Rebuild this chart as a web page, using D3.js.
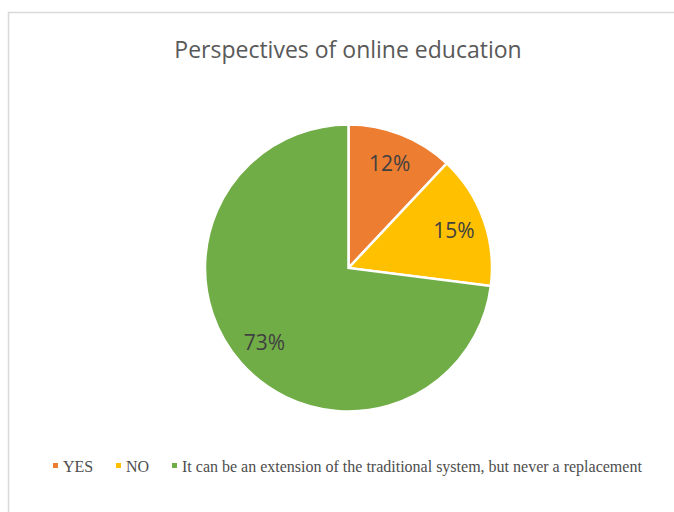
<!DOCTYPE html>
<html>
<head>
<meta charset="utf-8">
<script src="https://cdn.jsdelivr.net/npm/d3@7"></script>
<style>
  html, body { margin: 0; padding: 0; background: #fff; }
  svg { display: block; }
</style>
</head>
<body>
<svg id="chart" width="674" height="512"></svg>
<script>
// Survey answers and their shares (percent)
const categories = ["YES", "NO", "It can be an extension of the traditional system, but never a replacement"];
const values = [12, 15, 73];
const colors = ["#ED7D31", "#FFC000", "#70AD47"];
const title = "Perspectives of online education";

const svg = d3.select("#chart");
const W = 674, H = 512;

// chart frame
svg.append("rect")
  .attr("x", 8.5).attr("y", 12.5)
  .attr("width", W).attr("height", H)
  .attr("fill", "#fff")
  .attr("stroke", "#d9d9d9")
  .attr("stroke-width", 1.5);

svg.append("text")
  .attr("x", 348).attr("y", 57.5)
  .attr("text-anchor", "middle")
  .attr("font-family", "'Open Sans', sans-serif")
  .attr("font-size", 23)
  .attr("fill", "#595959")
  .text(title);

const cx = 348.5, cy = 268, R = 143.5;
const pie = d3.pie().sort(null).value(d => d)(values);
const arc = d3.arc().innerRadius(0).outerRadius(R);
const labelArc = d3.arc().innerRadius(R * 0.78).outerRadius(R * 0.78);

const g = svg.append("g").attr("transform", `translate(${cx},${cy})`);

g.selectAll("path.slice")
  .data(pie)
  .join("path")
  .attr("class", "slice")
  .attr("d", arc)
  .attr("fill", (d, i) => colors[i])
  .attr("stroke", "#fff")
  .attr("stroke-width", 2.5)
  .attr("stroke-linejoin", "miter");

const total = d3.sum(values);
g.selectAll("text.lbl")
  .data(pie)
  .join("text")
  .attr("class", "lbl")
  .attr("transform", d => `translate(${labelArc.centroid(d)})`)
  .attr("text-anchor", "middle")
  .attr("dy", "0.36em")
  .attr("font-family", "'Open Sans', sans-serif")
  .attr("font-size", 21)
  .attr("fill", "#404040")
  .text(d => Math.round(d.value / total * 100) + "%");

// legend
const legend = svg.append("g").attr("transform", "translate(0,466)");
const legendX = [53, 116, 172];
categories.forEach((c, i) => {
  legend.append("rect")
    .attr("x", legendX[i]).attr("y", -3)
    .attr("width", 5).attr("height", 5)
    .attr("fill", colors[i]);
  legend.append("text")
    .attr("x", legendX[i] + 10).attr("y", 0)
    .attr("dy", "0.35em")
    .attr("font-family", "'Liberation Serif', 'Times New Roman', serif")
    .attr("font-size", 16)
    .attr("fill", "#4d4d4d")
    .text(c);
});
</script>
</body>
</html>
